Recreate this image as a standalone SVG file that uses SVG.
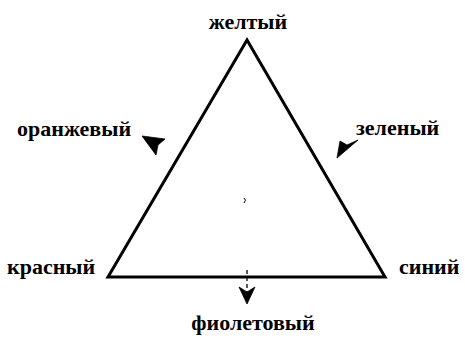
<svg xmlns="http://www.w3.org/2000/svg" width="465" height="338" viewBox="0 0 465 338">
<style>
text{font-family:"Liberation Serif","DejaVu Serif",serif;font-size:22px;font-weight:bold;fill:#000}
.edge{fill:none;stroke:#000;stroke-width:3;stroke-linejoin:miter}
.dash{fill:none;stroke:#000;stroke-width:1.3;stroke-dasharray:4 3}
.head{fill:#000;stroke:#000;stroke-width:0.8;stroke-linejoin:round}
</style>
<rect width="465" height="338" fill="#fff"/>
<g id="connectors">
<polygon class="edge" points="247,40 108,277 385,277"/>
<line class="dash" x1="247" y1="270" x2="247" y2="292"/>
<polygon class="head" points="247,304 239,287 247,292 255,287"/>
<polygon class="head" points="142,136 165,139 158,145 156,155"/>
<polygon class="head" points="337,158 340,141 347,145 358,140"/>
<path d="M244,198 q3,2 0,5" fill="none" stroke="#000" stroke-width="1"/>
</g>
<g id="yellow"><text x="248" y="29" text-anchor="middle">желтый</text></g>
<g id="orange"><text x="17" y="136">оранжевый</text></g>
<g id="green"><text x="356" y="135">зеленый</text></g>
<g id="red"><text x="7" y="274">красный</text></g>
<g id="blue"><text x="399" y="274">синий</text></g>
<g id="violet"><text x="253" y="330" text-anchor="middle">фиолетовый</text></g>
</svg>
